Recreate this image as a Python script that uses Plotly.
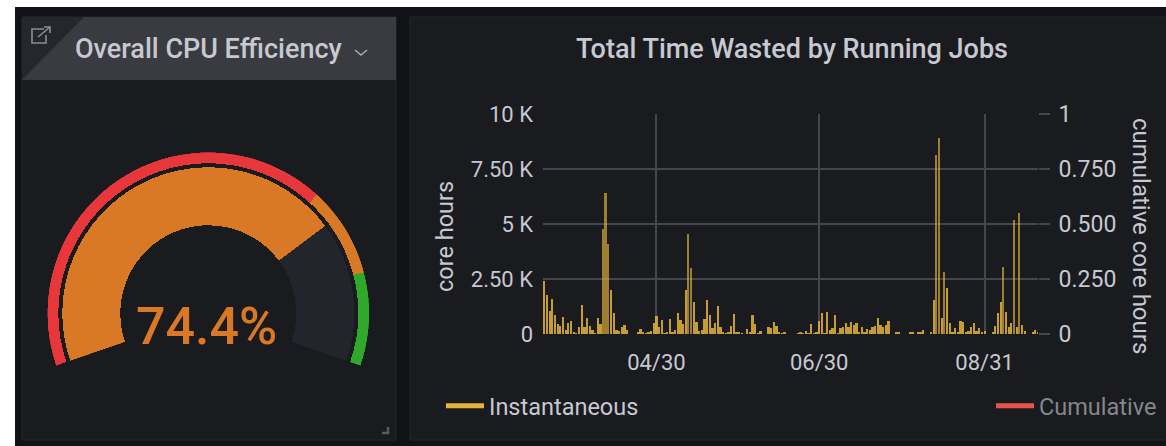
import pandas as pd
import plotly.graph_objects as go

W, H = 1166, 446

# ---- data ----
efficiency = 74.4
threshold_edges = [0, 69.5, 84.5, 100]
threshold_colors = ["#e8373a", "#d97825", "#2fa82c"]
instantaneous = [
    2400, 1770, 1050, 1600, 860, 450, 380, 790, 180, 510,
    600, 60, 30, 300, 1320, 330, 710, 360, 180, 30,
    730, 450, 4770, 6390, 4080, 2000, 940, 180, 140, 330,
    420, 180, 0, 0, 0, 60, 230, 100, 30, 60,
    130, 510, 820, 300, 640, 30, 100, 700, 100, 180,
    940, 640, 450, 2000, 4530, 3010, 1470, 560, 130, 180,
    670, 1545, 860, 260, 480, 1260, 330, 100, 30, 100,
    360, 910, 100, 100, 30, 0, 240, 100, 860, 450,
    30, 130, 0, 0, 330, 260, 530, 360, 100, 30,
    60, 0, 0, 0, 0, 30, 90, 40, 140, 40,
    450, 40, 100, 600, 940, 30, 1000, 180, 260, 860,
    30, 260, 330, 510, 330, 560, 410, 480, 100, 300,
    100, 240, 180, 330, 380, 710, 410, 330, 410, 590,
    0, 0, 100, 100, 0, 0, 0, 60, 70, 0,
    60, 70, 180, 0, 0, 60, 1545, 8135, 8890, 710,
    2830, 2080, 480, 100, 260, 100, 575, 560, 100, 140,
    330, 480, 130, 290, 100, 130, 0, 0, 70, 380,
    940, 1450, 3060, 985, 330, 480, 5180, 330, 5515, 410,
    150, 0, 0, 100, 200, 100,
]
start_date = "2021-03-19"
dates = pd.date_range(start_date, periods=len(instantaneous), freq="D")
x_ticks = ["2021-04-30", "2021-06-30", "2021-08-31"]
x_labels = ["04/30", "06/30", "08/31"]
y_ticks = [0, 2500, 5000, 7500, 10000]
y_labels = ["0", "2.50 K", "5 K", "7.50 K", "10 K"]
y2_ticks = [0, 0.25, 0.5, 0.75, 1]
y2_labels = ["0", "0.250", "0.500", "0.750", "1"]

# ---- styling ----
TEXT = "#c7c8d2"
GRID = "#45464b"
PANEL = "#1a1b1f"
BACK = "#111216"
FONT = "Roboto"
GAUGE_DEG = 218
DAY_MS = 86400000


def px(x):
    return x / W


def py(y):
    return 1 - y / H


def rect(x0, y0, x1, y1, fill, line=None):
    return dict(type="rect", xref="paper", yref="paper", x0=px(x0), x1=px(x1),
                y0=py(y1), y1=py(y0), fillcolor=fill, layer="below",
                line=dict(color=line or fill, width=1 if line else 0))


def path(points, fill=None, line=None, width=1.6, close=True):
    d = "M " + " L ".join(f"{px(a):.5f},{py(b):.5f}" for a, b in points) + (" Z" if close else "")
    return dict(type="path", xref="paper", yref="paper", path=d, layer="below",
                fillcolor=fill or "rgba(0,0,0,0)",
                line=dict(color=line or "rgba(0,0,0,0)", width=width if line else 0))


fig = go.Figure()

# gauge: value arc and the threshold ring
pct = GAUGE_DEG / 100
fig.add_trace(go.Barpolar(
    theta=[efficiency * pct / 2, (efficiency + 100) * pct / 2],
    width=[efficiency * pct, (100 - efficiency) * pct],
    base=[88, 88], r=[58, 58],
    marker=dict(color=["#d97825", "#22252b"], line=dict(width=0)),
    showlegend=False, hoverinfo="skip", subplot="polar",
))
fig.add_trace(go.Barpolar(
    theta=[(a + b) * pct / 2 for a, b in zip(threshold_edges[:-1], threshold_edges[1:])],
    width=[(b - a) * pct for a, b in zip(threshold_edges[:-1], threshold_edges[1:])],
    base=[150] * 3, r=[11] * 3,
    marker=dict(color=threshold_colors, line=dict(width=0)),
    showlegend=False, hoverinfo="skip", subplot="polar",
))

# time series
fig.add_trace(go.Bar(
    x=dates, y=instantaneous,
    width=[(0.85 if v < 2500 else 0.65) * DAY_MS for v in instantaneous],
    marker=dict(color="#e5b33a", opacity=[0.85 if v < 2500 else 0.65 for v in instantaneous],
                line=dict(width=0)),
    showlegend=False, hoverinfo="skip", xaxis="x", yaxis="y",
))
fig.add_trace(go.Scatter(
    x=[None], y=[None], mode="lines", name="Instantaneous",
    line=dict(color="#e5b33a", width=5), xaxis="x", yaxis="y", legend="legend",
))
fig.add_trace(go.Scatter(
    x=[None], y=[None], mode="lines", name="Cumulative",
    line=dict(color="#e5534b", width=5), xaxis="x", yaxis="y2", legend="legend2",
))

L, R, T, B = 543, 1038, 114, 334

shapes = [
    rect(15, 7, W + 2, H + 2, BACK),
    rect(22, 17, 396, 440, PANEL, "#25262b"),
    rect(410, 17, W + 4, 440, PANEL, "#25262b"),
    rect(22, 17, 396, 80, "#3a3b40"),
    path([(22, 17), (84, 17), (22, 80)], fill="#24272b"),
    # link-out icon
    path([(44, 29), (32, 29), (32, 43), (46, 43), (46, 35)], line="#8d8e94", close=False),
    path([(38, 37), (50, 27)], line="#8d8e94", close=False),
    path([(44, 27), (50, 27), (50, 33)], line="#8d8e94", close=False),
    # dropdown chevron
    path([(355, 50), (361, 55), (367, 50)], line="#a9aab2", close=False),
    # resize handle
    path([(388, 427), (388, 433), (382, 433)], line="#5a5b60", width=2.5, close=False),
]

annotations = [
    dict(text="Overall CPU Efficiency", x=px(209), y=py(49), font=dict(size=27, color=TEXT, weight=500)),
    dict(text="74.4%", x=px(206), y=py(326), font=dict(size=52, color="#d97825", weight=500)),
    dict(text="core hours", x=px(445), y=py(237), textangle=-90, font=dict(size=23.5, color=TEXT)),
    dict(text="cumulative core hours", x=px(1141), y=py(236), textangle=90, font=dict(size=24, color=TEXT)),
]
for a in annotations:
    a.update(xref="paper", yref="paper", showarrow=False, xanchor="center", yanchor="middle")

fig.update_layout(
    width=W, height=H, autosize=False,
    margin=dict(l=0, r=0, t=0, b=0, pad=0, autoexpand=False),
    paper_bgcolor="white", plot_bgcolor="rgba(0,0,0,0)",
    font=dict(family=FONT, color=TEXT, size=20),
    title=dict(text="Total Time Wasted by Running Jobs", x=px(792), y=py(49),
               xanchor="center", yanchor="middle", xref="paper", yref="container",
               font=dict(size=27, color=TEXT, weight=500)),
    bargap=0, barmode="overlay",
    shapes=shapes, annotations=annotations,
    xaxis=dict(type="date", domain=[px(L), px(R)], anchor="y",
               range=["2021-03-18 12:00", "2021-09-20 00:00"],
               tickvals=x_ticks, ticktext=x_labels, showgrid=True, gridcolor=GRID, gridwidth=1.5,
               ticks="", zeroline=False, showline=False, ticklabelstandoff=13,
               tickfont=dict(size=22, color=TEXT)),
    yaxis=dict(domain=[py(B), py(T)], anchor="x", range=[0, 10000], tickvals=y_ticks, ticktext=y_labels,
               showgrid=True, gridcolor=GRID, gridwidth=1.5, zeroline=False, showline=False, ticks="",
               ticklabelstandoff=9, tickfont=dict(size=22, color=TEXT)),
    yaxis2=dict(domain=[py(B), py(T)], anchor="x", range=[0, 1], overlaying="y", side="right",
                tickvals=y2_ticks, ticktext=y2_labels,
                showgrid=False, zeroline=False, showline=False, ticks="outside", ticklen=11,
                tickwidth=2, tickcolor=GRID, ticklabelstandoff=4, tickfont=dict(size=23, color=TEXT)),
    polar=dict(
        domain=dict(x=[px(47.3), px(369.3)], y=[py(365.7), py(152.3)]),
        sector=[-19, 199], bgcolor="rgba(0,0,0,0)",
        angularaxis=dict(visible=False, rotation=199, direction="clockwise", thetaunit="degrees"),
        radialaxis=dict(visible=False, range=[0, 161]),
    ),
    legend=dict(x=px(441), y=py(406), xanchor="left", yanchor="middle",
                bgcolor="rgba(0,0,0,0)", font=dict(size=23.5, color=TEXT), itemwidth=38),
    legend2=dict(x=px(991), y=py(406), xanchor="left", yanchor="middle",
                 bgcolor="rgba(0,0,0,0)", font=dict(size=23.5, color="#85868c"), itemwidth=38),
)

fig.write_html("out.html", config=dict(displayModeBar=False),
               post_script="document.body.style.margin='0';")
